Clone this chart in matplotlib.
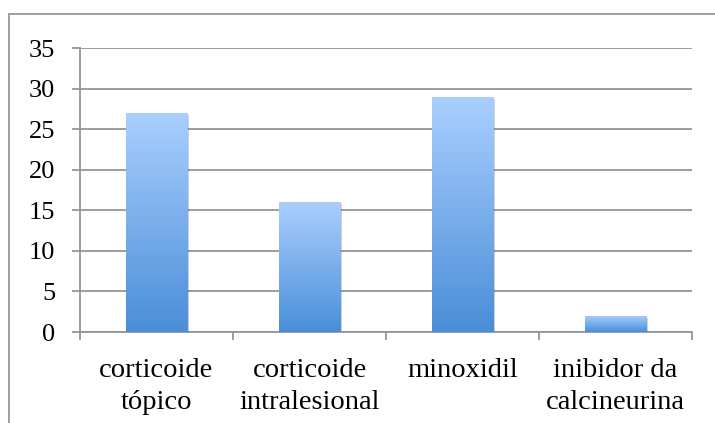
import numpy as np
import matplotlib.pyplot as plt
from matplotlib.colors import LinearSegmentedColormap
from matplotlib.lines import Line2D
import matplotlib.patheffects as pe

# Chart data
categories = ["corticoide\ntópico", "corticoide\nintralesional", "minoxidil", "inibidor da\ncalcineurina"]
values = [27, 16, 29, 2]
y_ticks = [0, 5, 10, 15, 20, 25, 30, 35]

plt.rcParams['font.family'] = ['Liberation Serif', 'DejaVu Serif']

W, H = 715, 423
fig = plt.figure(figsize=(W / 100, H / 100), dpi=100)
ax = fig.add_axes([80 / W, (H - 332) / H, 612 / W, 284 / H])

grid_col = '#959595'
x = np.arange(len(categories))
bars = ax.bar(x, values, width=0.4, color='#7aaeea', edgecolor='none', zorder=3)

# vertical gradient fill, darker at the base
cmap = LinearSegmentedColormap.from_list('bar_grad', ['#4a8ed8', '#aacfff'])
grad = np.linspace(0, 1, 256).reshape(-1, 1)
for b in bars:
    b.set_path_effects([pe.SimplePatchShadow(offset=(1.5, -1.5), shadow_rgbFace='#000000', alpha=0.18), pe.Normal()])
    x0, y0, w, h = b.get_x(), b.get_y(), b.get_width(), b.get_height()
    im = ax.imshow(grad, extent=(x0, x0 + w, y0, y0 + h), origin='lower',
                   cmap=cmap, aspect='auto', zorder=4, interpolation='bilinear')
    im.set_clip_path(b)

ax.set_xlim(-0.5, len(categories) - 0.5)
ax.set_ylim(0, 35)
ax.set_yticks(y_ticks)
ax.set_yticklabels([str(v) for v in y_ticks], fontsize=19)
ax.yaxis.grid(True, color=grid_col, linewidth=1.3, zorder=0)
ax.set_axisbelow(True)

ax.set_xticks(x)
ax.set_xticklabels(categories, fontsize=20.5, linespacing=1.36)
ax.set_xticks(np.arange(len(categories) + 1) - 0.5, minor=True)
ax.tick_params(axis='x', which='major', length=0, pad=18.5)
ax.tick_params(axis='x', which='minor', length=6, width=1.3, color=grid_col)
ax.tick_params(axis='y', length=6, width=1.3, color=grid_col, pad=12)

for side in ('top', 'right'):
    ax.spines[side].set_visible(False)
for side in ('left', 'bottom'):
    ax.spines[side].set_color(grid_col)
    ax.spines[side].set_linewidth(1.3)

# outer chart frame
fx, fy = 8.5 / W, 1 - 14.5 / H
fig.add_artist(Line2D([fx, fx], [0, fy], transform=fig.transFigure, color='#a0a0a0', linewidth=1.4))
fig.add_artist(Line2D([fx, 1], [fy, fy], transform=fig.transFigure, color='#a0a0a0', linewidth=1.4))

fig.savefig('out.png', dpi=100)
